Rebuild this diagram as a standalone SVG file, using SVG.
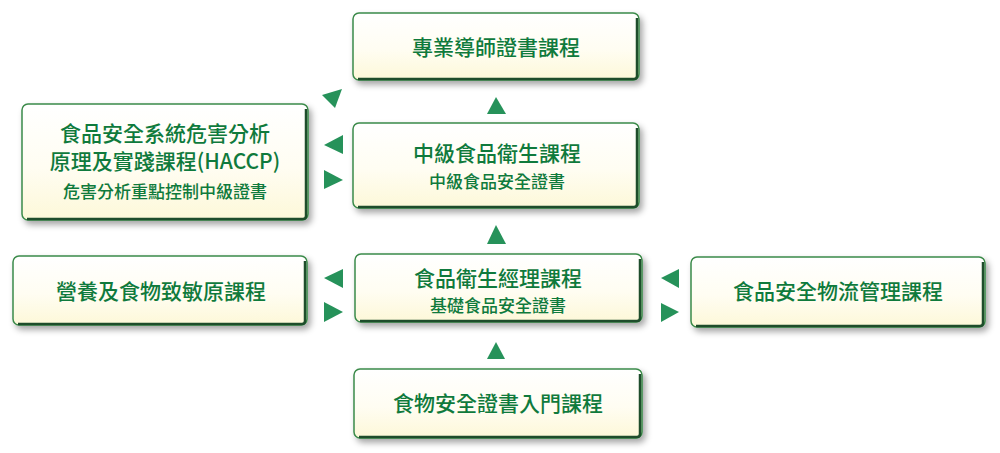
<svg xmlns="http://www.w3.org/2000/svg" width="1000" height="453" viewBox="0 0 1000 453">
<defs>
<linearGradient id="boxfill" x1="0" y1="0" x2="0" y2="1">
<stop offset="0" stop-color="#ffffff"/>
<stop offset="0.55" stop-color="#fffdf2"/>
<stop offset="1" stop-color="#fdf8d8"/>
</linearGradient>
<filter id="shadow" x="-10%" y="-20%" width="125%" height="150%">
<feDropShadow dx="3" dy="4" stdDeviation="3" flood-color="#000" flood-opacity="0.35"/>
</filter>
<style>
.box{fill:url(#boxfill);stroke:#3b8a4a;stroke-width:1.5;filter:url(#shadow)}
.edge{fill:none;stroke:#1e4d2b;stroke-width:2.5}
.t{font-family:"Noto Sans CJK TC","Noto Sans CJK SC",sans-serif;fill:#0f7a3c;font-weight:500;text-anchor:middle;dominant-baseline:central}
.big{font-size:21px}
.small{font-size:17px}
.arr{fill:#26925a}
</style>
</defs>
<rect width="1000" height="453" fill="#ffffff"/>

<g id="connectors">
<polygon class="arr" points="322,95 342,89 335,108"/>
<polygon class="arr" points="324,145 343,135 343,154"/>
<polygon class="arr" points="324,170 324,189 343,180"/>
<polygon class="arr" points="496,97 487,114 506,114"/>
<polygon class="arr" points="496,225 487,244 506,244"/>
<polygon class="arr" points="324,278 343,269 343,288"/>
<polygon class="arr" points="324,302 324,322 343,312"/>
<polygon class="arr" points="661,278 679,269 679,288"/>
<polygon class="arr" points="661,303 661,322 679,312"/>
<polygon class="arr" points="496,342 487,359 505,359"/>
</g>

<g id="node-mentor">
<rect class="box" x="353" y="13" width="286" height="67" rx="6"/>
<path class="edge" d="M637,18 V76 Q637,79 634,79 H358"/>
<text class="t big" x="496" y="46">專業導師證書課程</text>
</g>

<g id="node-haccp">
<rect class="box" x="22" y="104" width="286" height="116" rx="6"/>
<path class="edge" d="M306,109 V216 Q306,219 303,219 H27"/>
<text class="t big" x="165" y="132">食品安全系統危害分析</text>
<text class="t big" x="165" y="160">原理及實踐課程(HACCP)</text>
<text class="t small" x="165" y="190">危害分析重點控制中級證書</text>
</g>

<g id="node-intermediate">
<rect class="box" x="353" y="123" width="286" height="85" rx="6"/>
<path class="edge" d="M637,128 V204 Q637,207 634,207 H358"/>
<text class="t big" x="497" y="152">中級食品衛生課程</text>
<text class="t small" x="497" y="180">中級食品安全證書</text>
</g>

<g id="node-allergen">
<rect class="box" x="13" y="256" width="294" height="69" rx="6"/>
<path class="edge" d="M305,261 V321 Q305,324 302,324 H18"/>
<text class="t big" x="161" y="290">營養及食物致敏原課程</text>
</g>

<g id="node-manager">
<rect class="box" x="355" y="254" width="287" height="68" rx="6"/>
<path class="edge" d="M640,259 V318 Q640,321 637,321 H360"/>
<text class="t big" x="498" y="277">食品衛生經理課程</text>
<text class="t small" x="498" y="304">基礎食品安全證書</text>
</g>

<g id="node-logistics">
<rect class="box" x="691" y="257" width="294" height="70" rx="6"/>
<path class="edge" d="M983,262 V323 Q983,326 980,326 H696"/>
<text class="t big" x="838" y="290">食品安全物流管理課程</text>
</g>

<g id="node-intro">
<rect class="box" x="354" y="369" width="288" height="69" rx="6"/>
<path class="edge" d="M640,374 V434 Q640,437 637,437 H359"/>
<text class="t big" x="498" y="402">食物安全證書入門課程</text>
</g>
</svg>
